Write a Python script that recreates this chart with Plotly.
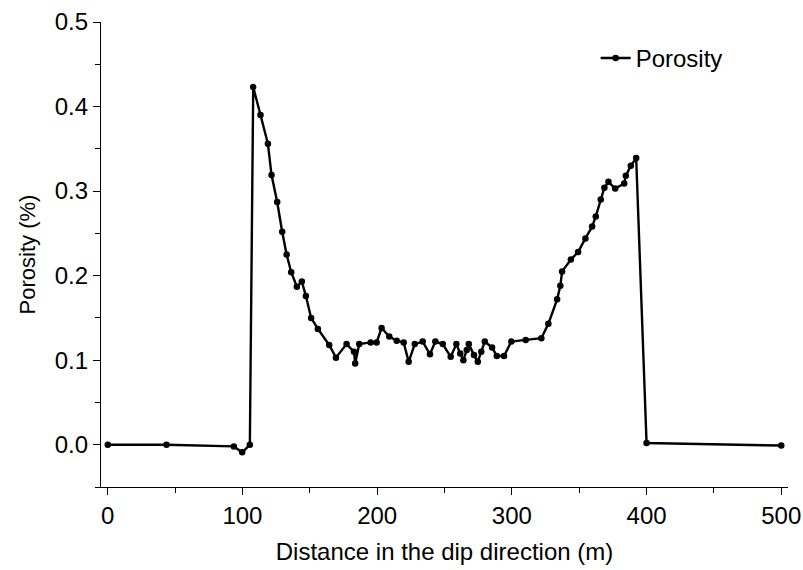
import plotly.graph_objects as go

distance = [0, 43.6, 93.6, 99.8, 105.5, 108.0, 113.4, 118.9, 121.6, 125.8,
            129.5, 132.8, 136.2, 140.4, 144.1, 147.1, 151.0, 156.0, 164.4, 169.4,
            177.3, 182.8, 183.7, 186.7, 195.2, 199.6, 203.3, 209.0, 214.5, 219.7,
            223.4, 227.9, 233.8, 239.2, 243.2, 248.7, 254.6, 258.8, 261.7, 264.0,
            266.5, 268.0, 271.9, 274.7, 277.3, 279.9, 285.3, 288.8, 294.2, 299.6,
            310.3, 321.9, 327.1, 333.6, 336.0, 337.3, 343.8, 349.2, 354.6, 359.6,
            362.3, 366.0, 368.7, 371.7, 376.7, 383.4, 384.6, 388.3, 392.3, 400.0,
            500.0]
porosity = [0.000, 0.000, -0.002, -0.009, 0.000, 0.423, 0.390, 0.356, 0.319, 0.287,
            0.252, 0.225, 0.204, 0.187, 0.193, 0.176, 0.150, 0.137, 0.118, 0.103,
            0.119, 0.110, 0.096, 0.119, 0.121, 0.121, 0.138, 0.128, 0.123, 0.121,
            0.098, 0.119, 0.122, 0.107, 0.122, 0.119, 0.104, 0.119, 0.108, 0.100,
            0.112, 0.119, 0.106, 0.098, 0.110, 0.122, 0.115, 0.105, 0.105, 0.122,
            0.124, 0.126, 0.143, 0.172, 0.188, 0.205, 0.219, 0.228, 0.244, 0.258,
            0.270, 0.290, 0.304, 0.311, 0.303, 0.309, 0.318, 0.330, 0.339, 0.002,
            -0.001]

x_ticks = [0, 100, 200, 300, 400, 500]
y_ticks = [0.0, 0.1, 0.2, 0.3, 0.4, 0.5]
y_tick_labels = ["0.0", "0.1", "0.2", "0.3", "0.4", "0.5"]

fig = go.Figure()
fig.add_trace(go.Scatter(
    x=distance, y=porosity, mode="lines+markers", name="Porosity",
    line=dict(color="black", width=2.4),
    marker=dict(color="black", size=6.5),
))

font_family = "Liberation Sans, Arial, sans-serif"
fig.update_layout(
    width=803, height=570,
    margin=dict(l=101, r=15, t=22, b=83, autoexpand=False),
    paper_bgcolor="white", plot_bgcolor="white",
    font=dict(family=font_family, color="black", size=22),
    showlegend=True,
    legend=dict(x=0.72, y=0.97, xanchor="left", yanchor="top",
                font=dict(size=24), bgcolor="rgba(0,0,0,0)"),
    xaxis=dict(
        range=[-5, 505], tickvals=x_ticks, automargin=False,
        showline=True, linecolor="black", linewidth=1.4,
        ticks="outside", ticklen=7, tickwidth=1.4, tickcolor="black",
        showgrid=False, zeroline=False,
        minor=dict(ticks="outside", dtick=50, tick0=0, ticklen=5, tickwidth=1.4,
                   tickcolor="black", showgrid=False),
        title=dict(text="Distance in the dip direction (m)", font=dict(size=24), standoff=15),
        tickfont=dict(size=24),
    ),
    yaxis=dict(
        range=[-0.05, 0.5], tickvals=y_ticks, ticktext=y_tick_labels, automargin=False,
        showline=True, linecolor="black", linewidth=1.4,
        ticks="outside", ticklen=7, tickwidth=1.4, tickcolor="black",
        showgrid=False, zeroline=False,
        minor=dict(ticks="outside", dtick=0.05, tick0=0, ticklen=5, tickwidth=1.4,
                   tickcolor="black", showgrid=False),
        title=dict(text="Porosity (%)", font=dict(size=22), standoff=12),
        tickfont=dict(size=24),
    ),
)

fig.write_html("out.html",
               config={"displayModeBar": False},
               post_script="document.body.style.margin='0';document.body.style.overflow='hidden';")
